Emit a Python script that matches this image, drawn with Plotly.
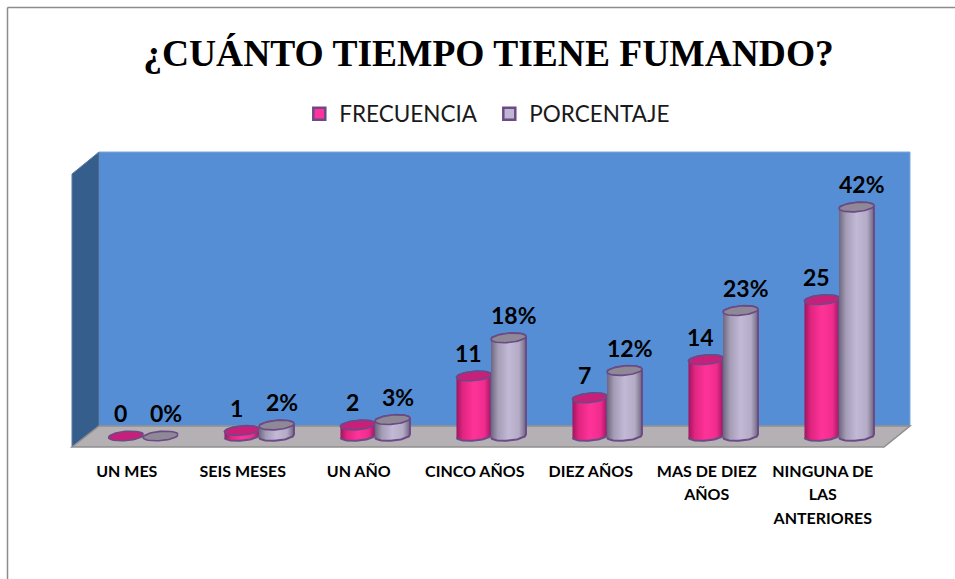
import numpy as np
import plotly.graph_objects as go

categories = ["UN MES", "SEIS MESES", "UN AÑO", "CINCO AÑOS", "DIEZ AÑOS", "MAS DE DIEZ<br>AÑOS", "NINGUNA DE<br>LAS<br>ANTERIORES"]
frecuencia = [0, 1, 2, 11, 7, 14, 25]
porcentaje = [0, 2, 3, 18, 12, 23, 42]
series_names = ["FRECUENCIA", "PORCENTAJE"]
title_text = "¿CUÁNTO TIEMPO TIENE FUMANDO?"

W, H = 955, 579
L, R, T, B0 = 85, 897, 152, 436   # plot box and the pixel row of value 0
B = B0 + 14                       # plot box continues below zero so the cylinder bases are not clipped
PXX = (R - L) / 7.0
PXY = 5.45
YMIN = -(B - B0) / PXY
YMAX = (B0 - T) / PXY


def pxp(x, y):
    return (x - L) / (R - L), (B - y) / (B - T)


def poly(points, fill, line=None, width=0, close=True):
    d = []
    for i, (x, y) in enumerate(points):
        a, b = pxp(x, y)
        d.append(("M" if i == 0 else "L") + f"{a:.5f},{b:.5f}")
    return dict(type="path", xref="paper", yref="paper", path=" ".join(d) + (" Z" if close else ""), fillcolor=fill,
                line=dict(color=line or fill, width=width), layer="below")


shapes = [
    poly([(99, 152), (910, 152), (910, 426), (99, 426)], "#558ED5", "#7FA6D8", 1),
    poly([(72, 174), (99, 152), (99, 426), (72, 447)], "#355E8C", "#5A7CA5", 1),
    poly([(72, 447), (99, 426), (910, 426), (884, 447)], "#B5B0B3", "#8E8E8E", 1.5),
    poly([(7.5, 579), (7.5, 7.5)], "rgba(0,0,0,0)", "#8C8C8C", 1.5, close=False),
    poly([(7.5, 7.5), (955, 7.5)], "rgba(0,0,0,0)", "#8C8C8C", 1.5, close=False),
]

fig = go.Figure()
RAD, RY = 17.5, 4.6
TILT = np.deg2rad(5)


def ell(cx, value, start=0.0, stop=2 * np.pi):
    tt = np.linspace(start, stop, 49)
    ex = RAD * np.cos(tt)
    ey = RY * np.sin(tt)
    px = ex * np.cos(TILT) - ey * np.sin(TILT)
    py = ex * np.sin(TILT) + ey * np.cos(TILT)
    return cx + px / PXX, value + py / PXY


def add_series(values, offset, name, base, stops, topc, outline):
    xs = [i + offset for i in range(len(values))]
    fig.add_trace(go.Bar(x=xs, y=values, width=RAD * 2 * 0.9 / PXX, name=name,
                         marker=dict(color=base, line=dict(color=outline, width=2.5)), hoverinfo="skip"))
    for cx, v in zip(xs, values):
        if v > 0:
            bx, by = ell(cx, 0, np.pi, 2 * np.pi)
            tx, ty = ell(cx, v, 0, np.pi)
            fig.add_trace(go.Scatter(
                x=np.r_[bx, tx], y=np.r_[by, ty], mode="lines", fill="toself",
                fillgradient=dict(type="horizontal", colorscale=stops),
                line=dict(color=outline, width=2), showlegend=False, hoverinfo="skip"))
        ex, ey = ell(cx, v)
        fig.add_trace(go.Scatter(x=ex, y=ey, mode="lines", fill="toself", fillcolor=topc,
                                 line=dict(color=outline, width=1.6), showlegend=False, hoverinfo="skip"))


PINK = [[0, "#A01560"], [0.18, "#E0257F"], [0.5, "#FF3399"], [0.8, "#F02C8E"], [1, "#A01560"]]
GRAY = [[0, "#6F667F"], [0.2, "#A59CB6"], [0.5, "#C2B9D6"], [0.8, "#B4ABC6"], [1, "#6F667F"]]
add_series(frecuencia, -0.147, series_names[0], "#FF3399", PINK, "#C8207A", "#6B4A86")
add_series(porcentaje, 0.151, series_names[1], "#BFB6D3", GRAY, "#8E8897", "#6B4A86")

ann = []
label_font = dict(family="Lato", size=23, color="black", weight="bold")
for i, (a, b) in enumerate(zip(frecuencia, porcentaje)):
    ann.append(dict(x=i - 0.197, y=a, text=str(a), yshift=23, xanchor="center", yanchor="middle", showarrow=False, font=label_font))
    ann.append(dict(x=i + 0.197, y=b, text=f"{b}%", yshift=23, xanchor="center", yanchor="middle", showarrow=False, font=label_font))

ticktext = ["<br>".join(f"<span style='font-size:16px'>{p}</span>" for p in c.split("<br>")) for c in categories]

fig.update_layout(
    width=W, height=H, autosize=False,
    margin=dict(l=L, r=W - R, t=T, b=H - B),
    paper_bgcolor="white", plot_bgcolor="rgba(0,0,0,0)",
    barmode="overlay", shapes=shapes, annotations=ann,
    title=dict(text=title_text, x=488.5 / W, xanchor="center", y=1 - 53 / H, yanchor="middle",
               font=dict(family="Liberation Serif", size=37.5, color="black", weight="bold")),
    legend=dict(orientation="h", x=0.5 - 2 / W, xanchor="center", y=1 - 114 / H, yref="container", yanchor="middle",
                entrywidth=145, entrywidthmode="pixels",
                font=dict(family="Lato", size=22.5, color="#1a1a1a"), bgcolor="rgba(0,0,0,0)", itemclick=False),
    xaxis=dict(range=[-0.5, 6.5], tickmode="array", tickvals=[i - 0.14 for i in range(7)], ticktext=ticktext,
               tickangle=0, showgrid=False, zeroline=False, showline=False, ticks="",
               tickfont=dict(family="Lato", size=18, color="black", weight="bold"), ticklabelstandoff=8),
    yaxis=dict(range=[YMIN, YMAX], visible=False, fixedrange=True),
    hovermode=False,
)
fig.write_html("out.html", config=dict(displayModeBar=False), post_script="document.body.style.margin='0';window.dispatchEvent(new Event('resize'));")
